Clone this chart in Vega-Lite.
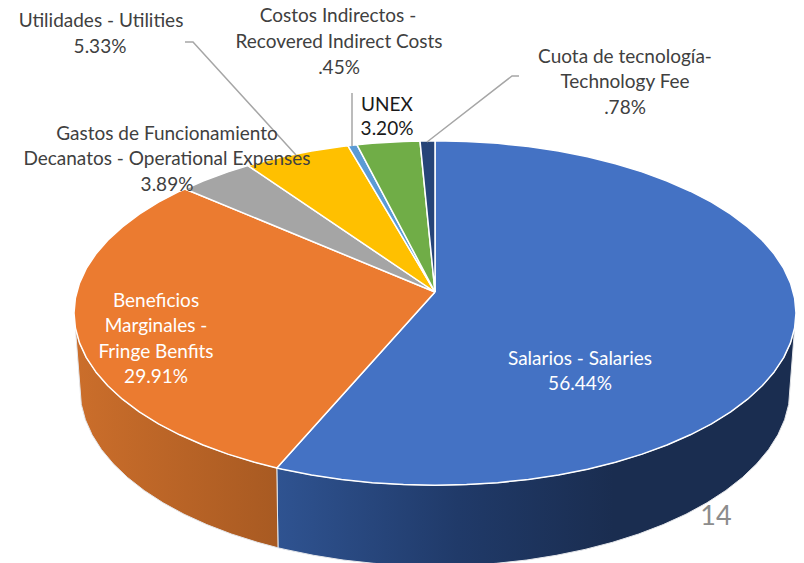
{"$schema":"https://vega.github.io/schema/vega-lite/v6.json","width":804,"height":563,"padding":0,"autosize":{"type":"none"},"background":"white","config":{"view":{"stroke":null}},
"datasets":{
"walls":[
{"part":"R","i":0,"x":276.8,"y":467.9},{"part":"R","i":1,"x":282.4,"y":469.2},{"part":"R","i":2,"x":311.5,"y":474.9},{"part":"R","i":3,"x":341.6,"y":479.4},{"part":"R","i":4,"x":372.3,"y":482.7},{"part":"R","i":5,"x":403.5,"y":484.6},{"part":"R","i":6,"x":435,"y":485.3},{"part":"R","i":7,"x":466.5,"y":484.6},{"part":"R","i":8,"x":497.7,"y":482.7},{"part":"R","i":9,"x":528.4,"y":479.4},{"part":"R","i":10,"x":558.5,"y":474.9},{"part":"R","i":11,"x":587.6,"y":469.2},{"part":"R","i":12,"x":615.5,"y":462.2},{"part":"R","i":13,"x":642.1,"y":454.1},{"part":"R","i":14,"x":667,"y":445},{"part":"R","i":15,"x":690.3,"y":434.8},{"part":"R","i":16,"x":711.5,"y":423.8},{"part":"R","i":17,"x":730.7,"y":411.8},{"part":"R","i":18,"x":747.6,"y":399.2},{"part":"R","i":19,"x":762.2,"y":385.8},{"part":"R","i":20,"x":774.2,"y":371.9},{"part":"R","i":21,"x":783.7,"y":357.6},{"part":"R","i":22,"x":790.5,"y":342.9},{"part":"R","i":23,"x":794.6,"y":328},
{"part":"R","i":24,"x":788.7,"y":404.4},{"part":"R","i":25,"x":784.6,"y":419.7},{"part":"R","i":26,"x":777.9,"y":434.8},{"part":"R","i":27,"x":768.6,"y":449.5},{"part":"R","i":28,"x":756.7,"y":463.8},{"part":"R","i":29,"x":742.4,"y":477.5},{"part":"R","i":30,"x":725.8,"y":490.5},{"part":"R","i":31,"x":706.9,"y":502.8},{"part":"R","i":32,"x":686,"y":514.2},{"part":"R","i":33,"x":663.2,"y":524.6},{"part":"R","i":34,"x":638.6,"y":534},{"part":"R","i":35,"x":612.5,"y":542.3},{"part":"R","i":36,"x":585,"y":549.4},{"part":"R","i":37,"x":556.4,"y":555.3},{"part":"R","i":38,"x":526.9,"y":560},{"part":"R","i":39,"x":496.6,"y":563.3},{"part":"R","i":40,"x":466,"y":565.3},{"part":"R","i":41,"x":435,"y":566},{"part":"R","i":42,"x":404,"y":565.3},{"part":"R","i":43,"x":373.4,"y":563.3},{"part":"R","i":44,"x":343.1,"y":560},{"part":"R","i":45,"x":313.6,"y":555.3},{"part":"R","i":46,"x":285,"y":549.4},{"part":"R","i":47,"x":278,"y":547.8},{"part":"R","i":48,"x":276.8,"y":467.9},
{"part":"L","i":0,"x":276.8,"y":467.9},{"part":"L","i":1,"x":254.5,"y":462.2},{"part":"L","i":2,"x":227.9,"y":454.1},{"part":"L","i":3,"x":203,"y":445},{"part":"L","i":4,"x":179.7,"y":434.8},{"part":"L","i":5,"x":158.5,"y":423.8},{"part":"L","i":6,"x":139.3,"y":411.8},{"part":"L","i":7,"x":122.4,"y":399.2},{"part":"L","i":8,"x":107.8,"y":385.8},{"part":"L","i":9,"x":95.8,"y":371.9},{"part":"L","i":10,"x":86.3,"y":357.6},{"part":"L","i":11,"x":79.5,"y":342.9},{"part":"L","i":12,"x":75.4,"y":328},
{"part":"L","i":13,"x":81.3,"y":404.4},{"part":"L","i":14,"x":85.4,"y":419.7},{"part":"L","i":15,"x":92.1,"y":434.8},{"part":"L","i":16,"x":101.4,"y":449.5},{"part":"L","i":17,"x":113.3,"y":463.8},{"part":"L","i":18,"x":127.6,"y":477.5},{"part":"L","i":19,"x":144.2,"y":490.5},{"part":"L","i":20,"x":163.1,"y":502.8},{"part":"L","i":21,"x":184,"y":514.2},{"part":"L","i":22,"x":206.8,"y":524.6},{"part":"L","i":23,"x":231.4,"y":534},{"part":"L","i":24,"x":257.5,"y":542.3},{"part":"L","i":25,"x":278,"y":547.8},{"part":"L","i":26,"x":276.8,"y":467.9}
],
"slices":[
{"part":"Salarios","i":0,"x":435,"y":292},{"part":"Salarios","i":1,"x":435,"y":140.7},{"part":"Salarios","i":2,"x":466.5,"y":141.4},{"part":"Salarios","i":3,"x":497.7,"y":143.3},{"part":"Salarios","i":4,"x":528.4,"y":146.6},{"part":"Salarios","i":5,"x":558.5,"y":151.1},{"part":"Salarios","i":6,"x":587.6,"y":156.8},{"part":"Salarios","i":7,"x":615.5,"y":163.8},{"part":"Salarios","i":8,"x":642.1,"y":171.9},{"part":"Salarios","i":9,"x":667,"y":181},{"part":"Salarios","i":10,"x":690.3,"y":191.2},{"part":"Salarios","i":11,"x":711.5,"y":202.2},{"part":"Salarios","i":12,"x":730.7,"y":214.2},{"part":"Salarios","i":13,"x":747.6,"y":226.9},{"part":"Salarios","i":14,"x":762.2,"y":240.2},{"part":"Salarios","i":15,"x":774.2,"y":254.1},{"part":"Salarios","i":16,"x":783.7,"y":268.4},{"part":"Salarios","i":17,"x":790.5,"y":283.1},{"part":"Salarios","i":18,"x":794.6,"y":298},{"part":"Salarios","i":19,"x":796,"y":313},{"part":"Salarios","i":20,"x":794.6,"y":328},{"part":"Salarios","i":21,"x":790.5,"y":342.9},{"part":"Salarios","i":22,"x":783.7,"y":357.6},{"part":"Salarios","i":23,"x":774.2,"y":371.9},{"part":"Salarios","i":24,"x":762.2,"y":385.8},{"part":"Salarios","i":25,"x":747.6,"y":399.2},{"part":"Salarios","i":26,"x":730.7,"y":411.8},{"part":"Salarios","i":27,"x":711.5,"y":423.8},{"part":"Salarios","i":28,"x":690.3,"y":434.8},{"part":"Salarios","i":29,"x":667,"y":445},{"part":"Salarios","i":30,"x":642.1,"y":454.1},{"part":"Salarios","i":31,"x":615.5,"y":462.2},{"part":"Salarios","i":32,"x":587.6,"y":469.2},{"part":"Salarios","i":33,"x":558.5,"y":474.9},{"part":"Salarios","i":34,"x":528.4,"y":479.4},{"part":"Salarios","i":35,"x":497.7,"y":482.7},{"part":"Salarios","i":36,"x":466.5,"y":484.6},{"part":"Salarios","i":37,"x":435,"y":485.3},{"part":"Salarios","i":38,"x":403.5,"y":484.6},{"part":"Salarios","i":39,"x":372.3,"y":482.7},{"part":"Salarios","i":40,"x":341.6,"y":479.4},{"part":"Salarios","i":41,"x":311.5,"y":474.9},{"part":"Salarios","i":42,"x":282.4,"y":469.2},{"part":"Salarios","i":43,"x":276.8,"y":467.9},{"part":"Salarios","i":44,"x":435,"y":292},
{"part":"Beneficios","i":0,"x":435,"y":292},{"part":"Beneficios","i":1,"x":276.8,"y":467.9},{"part":"Beneficios","i":2,"x":254.5,"y":462.2},{"part":"Beneficios","i":3,"x":227.9,"y":454.1},{"part":"Beneficios","i":4,"x":203,"y":445},{"part":"Beneficios","i":5,"x":179.7,"y":434.8},{"part":"Beneficios","i":6,"x":158.5,"y":423.8},{"part":"Beneficios","i":7,"x":139.3,"y":411.8},{"part":"Beneficios","i":8,"x":122.4,"y":399.2},{"part":"Beneficios","i":9,"x":107.8,"y":385.8},{"part":"Beneficios","i":10,"x":95.8,"y":371.9},{"part":"Beneficios","i":11,"x":86.3,"y":357.6},{"part":"Beneficios","i":12,"x":79.5,"y":342.9},{"part":"Beneficios","i":13,"x":75.4,"y":328},{"part":"Beneficios","i":14,"x":74,"y":313},{"part":"Beneficios","i":15,"x":75.4,"y":298},{"part":"Beneficios","i":16,"x":79.5,"y":283.1},{"part":"Beneficios","i":17,"x":86.3,"y":268.4},{"part":"Beneficios","i":18,"x":95.8,"y":254.1},{"part":"Beneficios","i":19,"x":107.8,"y":240.2},{"part":"Beneficios","i":20,"x":122.4,"y":226.9},{"part":"Beneficios","i":21,"x":139.3,"y":214.2},{"part":"Beneficios","i":22,"x":158.5,"y":202.2},{"part":"Beneficios","i":23,"x":179.7,"y":191.2},{"part":"Beneficios","i":24,"x":185,"y":189},{"part":"Beneficios","i":25,"x":435,"y":292},
{"part":"Gastos","i":0,"x":435,"y":292},{"part":"Gastos","i":1,"x":185,"y":189},{"part":"Gastos","i":2,"x":203,"y":181},{"part":"Gastos","i":3,"x":227.9,"y":171.9},{"part":"Gastos","i":4,"x":248,"y":165.6},{"part":"Gastos","i":5,"x":435,"y":292},
{"part":"Utilidades","i":0,"x":435,"y":292},{"part":"Utilidades","i":1,"x":248,"y":165.6},{"part":"Utilidades","i":2,"x":254.5,"y":163.8},{"part":"Utilidades","i":3,"x":282.4,"y":156.8},{"part":"Utilidades","i":4,"x":311.5,"y":151.1},{"part":"Utilidades","i":5,"x":341.6,"y":146.6},{"part":"Utilidades","i":6,"x":348,"y":145.8},{"part":"Utilidades","i":7,"x":435,"y":292},
{"part":"Costos","i":0,"x":435,"y":292},{"part":"Costos","i":1,"x":348,"y":145.8},{"part":"Costos","i":2,"x":357,"y":144.8},{"part":"Costos","i":3,"x":435,"y":292},
{"part":"UNEX","i":0,"x":435,"y":292},{"part":"UNEX","i":1,"x":357,"y":144.8},{"part":"UNEX","i":2,"x":372.3,"y":143.3},{"part":"UNEX","i":3,"x":403.5,"y":141.4},{"part":"UNEX","i":4,"x":420,"y":140.9},{"part":"UNEX","i":5,"x":435,"y":292},
{"part":"Cuota","i":0,"x":435,"y":292},{"part":"Cuota","i":1,"x":420,"y":140.9},{"part":"Cuota","i":2,"x":435,"y":140.7},{"part":"Cuota","i":3,"x":435,"y":292}
],
"leaders":[
{"part":"Utilidades","i":0,"x":185,"y":42},{"part":"Utilidades","i":1,"x":193,"y":42},{"part":"Utilidades","i":2,"x":296,"y":155},
{"part":"Costos","i":0,"x":352,"y":93},{"part":"Costos","i":1,"x":352,"y":146},
{"part":"Cuota","i":0,"x":519,"y":76},{"part":"Cuota","i":1,"x":512,"y":76},{"part":"Cuota","i":2,"x":427,"y":142}
],
"labels":[
{"t":"Utilidades - Utilities","x":101,"y":20,"g":"out"},{"t":"5.33%","x":100,"y":46,"g":"out"},
{"t":"Costos Indirectos -","x":338,"y":15,"g":"out"},{"t":"Recovered Indirect Costs","x":339,"y":41,"g":"out"},{"t":".45%","x":339,"y":67,"g":"out"},
{"t":"UNEX","x":387,"y":104,"g":"dark"},{"t":"3.20%","x":387,"y":128,"g":"dark"},
{"t":"Cuota de tecnología-","x":625,"y":56,"g":"out"},{"t":"Technology Fee","x":625,"y":81,"g":"out"},{"t":".78%","x":625,"y":107,"g":"out"},
{"t":"Gastos de Funcionamiento","x":167,"y":133,"g":"out"},{"t":"Decanatos - Operational Expenses","x":167,"y":158,"g":"out"},{"t":"3.89%","x":167,"y":184,"g":"out"},
{"t":"Beneficios","x":156,"y":300,"g":"in"},{"t":"Marginales -","x":156,"y":325,"g":"in"},{"t":"Fringe Benfits","x":156,"y":351,"g":"in"},{"t":"29.91%","x":156,"y":376,"g":"in"},
{"t":"Salarios - Salaries","x":580,"y":358,"g":"in"},{"t":"56.44%","x":580,"y":383,"g":"in"}
],
"page":[{"t":"14","x":716,"y":517}]
},
"encoding":{
"x":{"field":"x","type":"quantitative","axis":null,"scale":{"domain":[0,804],"nice":false,"zero":false}},
"y":{"field":"y","type":"quantitative","axis":null,"scale":{"domain":[563,0],"nice":false,"zero":false}}
},
"layer":[
{"data":{"name":"walls"},"transform":[{"filter":"datum.part==='R'"}],
"mark":{"type":"line","clip":true,"strokeWidth":1,"stroke":"#E4E6EA","fill":{"gradient":"linear","x1":0,"y1":0,"x2":1,"y2":0,"stops":[{"offset":0,"color":"#2F5391"},{"offset":0.35,"color":"#203A69"},{"offset":0.65,"color":"#1A2D50"},{"offset":1,"color":"#1A2D50"}]}},
"encoding":{"order":{"field":"i","type":"quantitative"}}},
{"data":{"name":"walls"},"transform":[{"filter":"datum.part==='L'"}],
"mark":{"type":"line","clip":true,"strokeWidth":1,"stroke":"#E4E6EA","fill":{"gradient":"linear","x1":0,"y1":0,"x2":1,"y2":0,"stops":[{"offset":0,"color":"#CB6E2B"},{"offset":1,"color":"#A85A22"}]}},
"encoding":{"order":{"field":"i","type":"quantitative"}}},
{"data":{"name":"slices"},
"mark":{"type":"line","filled":true,"stroke":"white","strokeWidth":1.5,"strokeJoin":"round"},
"encoding":{"order":{"field":"i","type":"quantitative"},"detail":{"field":"part"},
"fill":{"field":"part","type":"nominal","legend":null,"scale":{"domain":["Salarios","Beneficios","Gastos","Utilidades","Costos","UNEX","Cuota"],"range":["#4472C4","#EB7B30","#A5A5A5","#FFC000","#5B9BD5","#70AD47","#264478"]}}}},
{"data":{"name":"leaders"},
"mark":{"type":"line","stroke":"#A6A6A6","strokeWidth":1.5},
"encoding":{"order":{"field":"i","type":"quantitative"},"detail":{"field":"part"}}},
{"data":{"name":"labels"},
"mark":{"type":"text","font":"Lato","fontSize":19,"baseline":"middle","align":"center","dy":1},
"encoding":{"text":{"field":"t"},
"color":{"field":"g","type":"nominal","legend":null,"scale":{"domain":["out","dark","in"],"range":["#404040","#1A1A1A","#FFFFFF"]}}}},
{"data":{"name":"page"},
"mark":{"type":"text","font":"Lato","fontSize":27,"baseline":"middle","align":"center","color":"#8C8C8C"},
"encoding":{"text":{"field":"t"}}}
],
"resolve":{"scale":{"color":"independent","fill":"independent"}}
}
